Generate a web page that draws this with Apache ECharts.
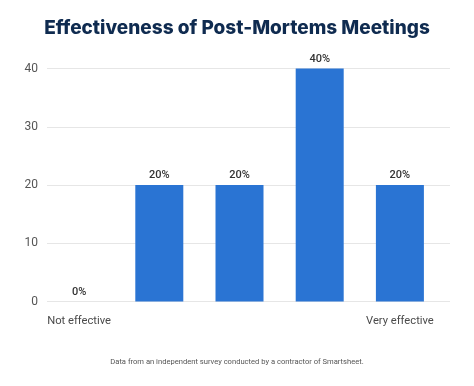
<!DOCTYPE html>
<html><head><meta charset="utf-8">
<script src="https://cdn.jsdelivr.net/npm/echarts@6/dist/echarts.min.js"></script>
<style>html,body{margin:0;padding:0;background:#fff}#c{width:474px;height:386px}</style>
</head><body><div id="c"></div>
<script>
const categories = ['Not effective', 'Slightly effective', 'Moderately effective', 'Mostly effective', 'Very effective'];
const shownLabels = ['Not effective', '', '', '', 'Very effective'];
const values = [0, 20, 20, 40, 20];
const yTicks = { min: 0, max: 40, interval: 10 };
const titleText = 'Effectiveness of Post-Mortems Meetings';
const footText = 'Data from an independent survey conducted by a contractor of Smartsheet.';

const chart = echarts.init(document.getElementById('c'));
chart.setOption({
  animation: false,
  backgroundColor: '#fff',
  title: [{
    text: titleText, left: 'center', top: 14,
    textStyle: { fontFamily: 'Inter', fontWeight: 800, fontSize: 19, color: '#0f2b50' }
  }, {
    text: footText, left: 'center', top: 353,
    textStyle: { fontFamily: 'Roboto', fontWeight: 'normal', fontSize: 7.6, color: '#555' }
  }],
  grid: [
    { left: 47, right: 24, top: 68.5, height: 233 },
    { left: 39, right: 34, top: 68.5, height: 233 }
  ],
  xAxis: [
    { gridIndex: 0, type: 'category', data: categories, show: false },
    { gridIndex: 1, type: 'category', data: categories,
      axisLine: { show: false }, axisTick: { show: false },
      axisLabel: { interval: 0, margin: 14, fontFamily: 'Roboto', fontSize: 11.2, color: '#4a4a4a',
        formatter: (v, i) => shownLabels[i] } }
  ],
  yAxis: [
    { gridIndex: 0, type: 'value', min: yTicks.min, max: yTicks.max, interval: yTicks.interval,
      axisLine: { show: false }, axisTick: { show: false },
      axisLabel: { margin: 9, fontFamily: 'Roboto', fontSize: 12, color: '#555' },
      splitLine: { lineStyle: { color: '#e6e6e6', width: 1 } } },
    { gridIndex: 1, type: 'value', min: yTicks.min, max: yTicks.max, interval: yTicks.interval,
      show: false, splitLine: { show: false } }
  ],
  series: [{
    type: 'bar', xAxisIndex: 1, yAxisIndex: 1, data: values, barWidth: 48,
    itemStyle: { color: '#2a74d3' },
    label: { show: true, position: 'top', distance: 4, formatter: '{c}%',
      fontFamily: 'Roboto', fontWeight: 500, fontSize: 11, color: '#333' }
  }]
});
</script></body></html>
